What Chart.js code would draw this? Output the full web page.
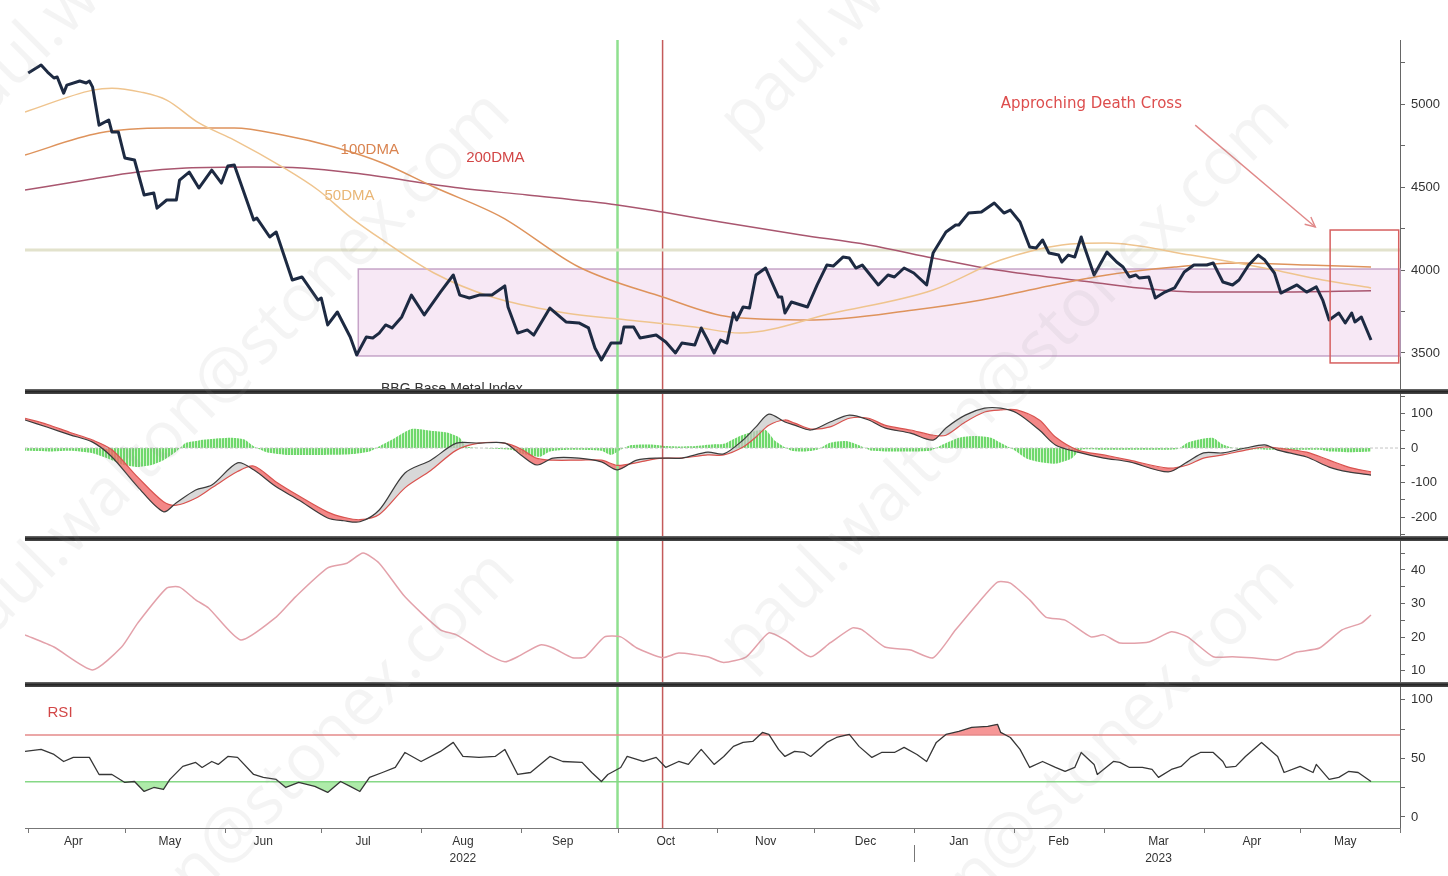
<!DOCTYPE html>
<html>
<head>
<meta charset="utf-8">
<title>BBG Base Metal Index</title>
<script src="https://cdn.jsdelivr.net/npm/chart.js@4.4.1/dist/chart.umd.min.js"></script>
<style>
  html, body { margin: 0; padding: 0; background: #fff; }
  #page { position: relative; width: 1448px; height: 876px; overflow: hidden; background: #fff; }
  #page canvas { position: absolute; left: 0; }
  .sep { position: absolute; left: 25px; width: 1423px; height: 5px; background: linear-gradient(#707070, #262626 50%, #4a4a4a); z-index: 3; }
  .title { position: absolute; left: 381px; top: 380px; height: 9px; overflow: hidden; font: 14px/16px "Liberation Sans", Arial, sans-serif; color: #333; z-index: 2; white-space: nowrap; }
  .wm { position: absolute; transform-origin: 0 0; transform: rotate(-45deg); font: 66px/1 "Open Sans", sans-serif; color: rgba(150,150,150,0.10); white-space: nowrap; pointer-events: none; z-index: 5; }
</style>
</head>
<body>
<div id="page">
  <canvas id="cPrice" width="1448" height="349" style="top:40px"></canvas>
  <canvas id="cMacd" width="1448" height="142" style="top:394px"></canvas>
  <canvas id="cAdx" width="1448" height="141" style="top:541px"></canvas>
  <canvas id="cRsi" width="1448" height="189" style="top:687px"></canvas>
  <div class="title">BBG Base Metal Index</div>
  <div class="sep" style="top:389px"></div>
  <div class="sep" style="top:536px"></div>
  <div class="sep" style="top:682px"></div>
  <div class="wm" style="left:-82px;top:103px">paul.walton@stonex.com</div>
  <div class="wm" style="left:-77px;top:623px">paul.walton@stonex.com</div>
  <div class="wm" style="left:-72px;top:1083px">paul.walton@stonex.com</div>
  <div class="wm" style="left:703px;top:103px">paul.walton@stonex.com</div>
  <div class="wm" style="left:703px;top:628px">paul.walton@stonex.com</div>
  <div class="wm" style="left:708px;top:1088px">paul.walton@stonex.com</div>
</div>
<script>
// x = calendar days counted from 1 Apr 2022
const X_MIN = -1, X_MAX = 426;

// ---- price panel ----
const priceDays = [0,4,6,8,9,11,12,16,18,19,20,22,25,26,28,30,33,36,39,40,43,46,47,50,53,57,60,62,64,70,
  71,75,77,82,85,90,91,93,96,100,102,105,107,109,111,113,116,119,123,128,132,134,137,140,144,148,149,152,155,157,
  162,167,171,174,176,178,181,184,185,188,190,195,198,201,203,207,209,211,213,215,217,219,220,222,224,226,229,233,234,235,
  237,242,245,248,250,253,255,257,259,264,267,269,272,275,279,281,285,288,289,292,296,300,303,305,308,311,313,315,317,320,
  321,323,325,327,328,331,335,338,340,342,344,345,348,350,353,356,359,362,366,368,371,374,376,379,382,384,387,389,394,397,
  400,402,404,407,409,411,412,414,417];
const priceVals = [5187,5235,5193,5157,5163,5066,5114,5139,5127,5139,5102,4873,4904,4831,4831,4675,4663,4452,4464,4373,
  4422,4422,4542,4590,4494,4602,4524,4627,4633,4301,4313,4199,4229,3940,3958,3819,3831,3669,3747,3596,
  3488,3596,3590,3620,3669,3651,3717,3849,3729,3867,3970,3849,3831,3849,3849,3904,3777,3620,3639,3608,
  3771,3687,3681,3651,3530,3458,3560,3560,3657,3657,3590,3608,3566,3500,3560,3548,3651,3578,3500,3578,
  3560,3741,3699,3777,3771,3970,4012,3837,3837,3741,3807,3777,3910,4030,4024,4078,4072,4012,4030,3910,
  3970,3958,4012,3982,3910,4102,4229,4271,4271,4343,4349,4404,4343,4361,4289,4139,4133,4181,4102,4090,
  4048,4090,4078,4199,4139,3970,4108,4048,4018,3958,3970,3952,3958,3831,3867,3892,3988,4030,4030,4042,
  3928,3910,3940,4030,4090,4060,3982,3861,3910,3867,3898,3819,3699,3741,3681,3741,3687,3717,3578];

const ma50Days = [-1,20,26,35,43,53,64,79,90,100,110,126,144,165,186,207,221,250,281,302,321,335,361,387,402,417];
const ma50Vals = [4952,5084,5096,5072,5024,4886,4783,4620,4482,4319,4181,3982,3837,3747,3699,3657,3620,3741,3880,4060,4151,4163,4090,4000,3940,3892];
const ma100Days = [-1,22,43,64,79,95,110,126,147,171,197,218,244,275,296,314,335,356,376,397,417];
const ma100Vals = [4693,4825,4855,4855,4813,4741,4645,4500,4319,4018,3837,3717,3699,3759,3819,3892,3970,4018,4042,4030,4018];
const ma200Days = [-1,18,34,49,70,85,101,134,155,183,197,215,240,261,281,297,312,330,345,363,387,417];
const ma200Vals = [4482,4542,4590,4614,4620,4614,4584,4494,4452,4392,4349,4289,4211,4151,4072,4012,3970,3928,3892,3867,3867,3875];

const resistanceLevel = 4120;
const rangeDays = [102.5, 426], rangeVals = [3482, 4006];
const crossBoxDays = [404.3, 425.6], crossBoxVals = [3440, 4241];
const arrowDays = [362.4, 399.7], arrowVals = [4873, 4259];

// ---- MACD panel ----
const macdDays = [-1,6,13,20,26,34,42,46,52,57,65,70,77,84,93,98,103,109,117,125,133,140,148,153,158,163,171,178,183,189,
  196,203,211,216,222,226,230,235,238,243,249,255,261,266,274,281,285,291,297,302,307,314,319,326,334,342,354,360,365,371,
  378,384,388,397,404,410,417];
const macdVals = [81,60,38,17,-26,-112,-184,-158,-121,-107,-43,-63,-112,-150,-202,-210,-213,-179,-72,-35,14,14,14,-20,-49,-29,-29,-40,-63,-35,
  -29,-29,-12,-17,23,61,98,75,66,52,75,95,81,58,43,23,58,95,115,115,101,52,9,-12,-29,-40,-69,-40,-14,-14,
  0,9,-6,-26,-55,-69,-78];
const signalVals = [86,68,45,23,-5,-84,-155,-165,-145,-115,-68,-52,-98,-138,-185,-200,-207,-192,-115,-65,-6,14,14,-3,-30,-35,-35,-35,-50,-42,
  -30,-29,-20,-20,3,32,66,81,72,55,61,86,86,66,52,37,37,75,104,110,110,81,32,-6,-20,-35,-58,-49,-29,-20,
  -6,3,0,-12,-35,-55,-69];
const histDays = [-1,7,13,20,26,30,34,38,42,46,49,53,59,63,67,70,74,81,91,100,106,110,114,119,125,130,134,136,140,150,
  154,159,162,168,178,181,184,187,193,199,206,212,216,221,226,229,232,237,241,245,249,254,258,262,271,280,284,289,294,299,
  302,306,310,314,319,324,327,333,342,352,357,360,364,368,371,376,389,401,404,411,417];
const histVals = [-8,-10,-8,-15,-35,-50,-55,-50,-35,-10,15,22,28,30,25,5,-12,-20,-20,-18,-10,10,30,55,50,45,30,5,0,-5,
  -18,-25,-10,-5,-8,-20,-5,8,10,5,5,10,12,35,50,52,20,-8,-10,-5,15,20,8,-8,-10,-8,10,30,35,30,
  15,-5,-30,-40,-45,-30,-5,-5,-5,-5,-3,15,25,29,10,-3,-5,-5,-10,-12,-10];

// ---- third panel (pink line) ----
const adxDays = [-1,8,20,29,34,43,47,52,56,66,77,83,93,99,104,109,117,128,133,142,148,152,159,163,169,173,179,184,189,197,
  202,211,216,223,230,235,243,249,256,259,266,274,281,288,295,301,305,311,316,322,330,334,339,348,355,360,368,374,380,388,
  394,401,408,414,417];
const adxVals = [20.7,17.1,10.3,17.1,24.2,34.6,34.9,31.1,28.7,19.2,26.0,32.0,40.6,42.0,45.0,42.0,32.0,22.2,20.7,15.3,
  12.7,14.2,17.7,16.8,13.9,14.2,20.1,20.1,16.8,13.9,15.3,14.2,12.5,14.2,21.3,19.2,14.2,18.3,22.8,22.2,
  17.1,16.2,13.9,22.2,30.2,36.4,36.1,31.1,26.0,25.1,20.1,20.7,18.3,18.6,21.6,20.1,14.2,14.2,13.9,13.3,
  15.6,16.8,22.2,24.2,26.6];

// ---- RSI panel ----
const rsiDays = [-1,4,8,11,14,19,22,26,30,33,36,39,42,44,48,52,54,57,59,62,65,70,73,77,80,84,89,93,97,100,
  103,106,110,114,117,122,128,132,135,140,145,148,152,156,162,166,172,175,178,180,184,186,191,195,198,202,205,209,213,216,
  219,222,225,228,230,233,235,238,241,243,248,251,255,258,262,265,269,272,276,279,282,285,289,293,298,301,302,305,308,311,
  315,319,322,325,327,331,332,337,339,342,346,349,351,355,358,361,364,368,371,372,375,378,383,388,390,395,399,400,404,407,
  410,413,417];
const rsiVals = [56,57.7,53.4,47.4,50.9,50.9,36.3,36.3,29.5,30.3,21.8,25.2,23.5,32.1,43.2,46.6,42.3,47.4,44.9,51.7,
  50.9,36.3,33.8,32.1,25.2,29.5,26.1,21.0,30.3,26.1,21.8,33.8,38.0,42.3,55.1,47.4,56,63.7,51.7,50.9,
  51.7,57.7,36.3,38.0,51.7,47.4,46.6,38.0,30.3,36.3,42.3,51.7,47.4,50.9,42.3,47.4,44.9,57.7,44.9,51.7,
  60.3,63.7,64.5,72.2,70.5,57.7,51.7,56,55.1,51.7,63.7,67.9,70.5,60.3,50.9,55.1,55.1,59.4,53.4,47.4,
  63.7,70.5,73.1,76.5,77.4,79.1,72.2,67.9,57.7,42.3,47.4,42.3,38.9,42.3,55.1,44.9,36.3,47.4,46.6,42.3,
  42.3,40.6,33.8,40.6,43.2,50.9,55.1,55.1,47.4,42.3,43.2,51.7,63.7,51.7,38.0,43.2,38.0,44.9,32.1,33.8,
  38.9,38.0,30.3];
const rsiHigh = 70, rsiLow = 30;

// ---- time axis ----
const monthMidDays = [14,44,73,104,135,166,198,229,260,289,320,351,380,409];
const monthLabels = ['Apr','May','Jun','Jul',['Aug','2022'],'Sep','Oct','Nov','Dec','Jan','Feb',['Mar','2023'],'Apr','May'];
const monthStartDays = [0,30,61,91,122,153,183,214,244,275,306,334,365,395,426];
const yearStartDay = 275;
const markerGreenDay = 183, markerRedDay = 197;

const FONT = '"Liberation Sans", Arial, sans-serif';
const xy = (xs, ys) => xs.map((x, i) => ({x, y: ys[i]}));
const flat = v => [{x: X_MIN, y: v}, {x: X_MAX, y: v}];

function yAxis(min, max, tickVals, labelled) {
  return {
    position: 'right', min, max,
    afterBuildTicks: s => { s.ticks = tickVals.map(v => ({value: v})); },
    afterFit: s => { s.width = 48; s.paddingTop = 0; s.paddingBottom = 0; },
    grid: {drawOnChartArea: false, tickLength: 5, color: '#666', tickColor: '#666'},
    border: {display: true, color: '#666', width: 1},
    ticks: {padding: 6, autoSkip: false, color: '#333', font: {family: FONT, size: 13},
      callback: v => labelled.includes(v) ? String(v) : ''}
  };
}
const hiddenX = () => ({type: 'linear', min: X_MIN, max: X_MAX, display: false});
const bottomX = {
  type: 'linear', min: X_MIN, max: X_MAX, position: 'bottom',
  afterBuildTicks: s => { s.ticks = monthMidDays.map(v => ({value: v})); },
  afterFit: s => { s.height = 48; s.paddingLeft = 0; s.paddingRight = 0; },
  grid: {display: false, drawTicks: false},
  border: {display: true, color: '#777', width: 1},
  ticks: {autoSkip: false, maxRotation: 0, minRotation: 0, padding: 6, color: '#333',
    font: {family: FONT, size: 12, lineHeight: 1.35}, callback: (v, i) => monthLabels[i]}
};

function opts(yScale, xScale) {
  return {
    responsive: false, animation: false, devicePixelRatio: 1, events: [],
    layout: {padding: {left: 25, right: 0, top: 0, bottom: 0}},
    plugins: {legend: {display: false}, tooltip: {enabled: false}, filler: {drawTime: 'beforeDatasetsDraw'}},
    elements: {point: {radius: 0}, line: {borderJoinStyle: 'round'}},
    scales: {x: xScale, y: yScale}
  };
}

function drawMarkers(chart) {
  const {ctx, chartArea: a, scales: {x}} = chart;
  ctx.save();
  [[markerGreenDay, '#8fe08f', 2.5], [markerRedDay, '#c45a5a', 1.5]].forEach(([d, col, w]) => {
    const px = x.getPixelForValue(d);
    ctx.strokeStyle = col; ctx.lineWidth = w;
    ctx.beginPath(); ctx.moveTo(px, a.top); ctx.lineTo(px, a.bottom); ctx.stroke();
  });
  ctx.restore();
}
const markers = {id: 'markers', beforeDatasetsDraw: drawMarkers};

const pricePlugin = {
  id: 'priceNotes',
  beforeDatasetsDraw(chart) {
    const {ctx, scales: {x, y}} = chart;
    const x0 = x.getPixelForValue(rangeDays[0]), x1 = x.getPixelForValue(rangeDays[1]);
    const y0 = y.getPixelForValue(rangeVals[1]), y1 = y.getPixelForValue(rangeVals[0]);
    ctx.save();
    ctx.fillStyle = '#f7e8f5';
    ctx.fillRect(x0, y0, x1 - x0, y1 - y0);
    ctx.strokeStyle = '#c6a4c8'; ctx.lineWidth = 1.5;
    ctx.strokeRect(x0, y0, x1 - x0, y1 - y0);
    ctx.restore();
    drawMarkers(chart);
  },
  afterDatasetsDraw(chart) {
    const {ctx, scales: {x, y}} = chart;
    ctx.save();
    // box round the end of the series
    const bx0 = x.getPixelForValue(crossBoxDays[0]), bx1 = x.getPixelForValue(crossBoxDays[1]);
    const by0 = y.getPixelForValue(crossBoxVals[1]), by1 = y.getPixelForValue(crossBoxVals[0]);
    ctx.strokeStyle = '#d65f5f'; ctx.lineWidth = 1.5;
    ctx.strokeRect(bx0, by0, bx1 - bx0, by1 - by0);
    // arrow
    const ax0 = x.getPixelForValue(arrowDays[0]), ay0 = y.getPixelForValue(arrowVals[0]);
    const ax1 = x.getPixelForValue(arrowDays[1]), ay1 = y.getPixelForValue(arrowVals[1]);
    ctx.strokeStyle = '#e08888'; ctx.lineWidth = 1.4;
    ctx.beginPath(); ctx.moveTo(ax0, ay0); ctx.lineTo(ax1, ay1); ctx.stroke();
    const ang = Math.atan2(ay1 - ay0, ax1 - ax0);
    ctx.beginPath();
    ctx.moveTo(ax1 - 11 * Math.cos(ang - 0.45), ay1 - 11 * Math.sin(ang - 0.45));
    ctx.lineTo(ax1, ay1);
    ctx.lineTo(ax1 - 11 * Math.cos(ang + 0.45), ay1 - 11 * Math.sin(ang + 0.45));
    ctx.stroke();
    // labels
    ctx.textBaseline = 'middle'; ctx.textAlign = 'left';
    ctx.font = '15px "DejaVu Sans", sans-serif'; ctx.fillStyle = '#dd4d4d';
    ctx.fillText('Approching Death Cross', x.getPixelForValue(302), y.getPixelForValue(5000));
    ctx.font = '15px ' + FONT;
    ctx.fillStyle = '#d9834f'; ctx.fillText('100DMA', x.getPixelForValue(97), y.getPixelForValue(4723));
    ctx.fillStyle = '#d24646'; ctx.fillText('200DMA', x.getPixelForValue(136), y.getPixelForValue(4675));
    ctx.fillStyle = '#e9b676'; ctx.fillText('50DMA', x.getPixelForValue(92), y.getPixelForValue(4446));
    ctx.restore();
  }
};

const rsiPlugin = {
  id: 'rsiNotes',
  afterDatasetsDraw(chart) {
    const {ctx, scales: {x, y}} = chart;
    ctx.save();
    ctx.font = '15px ' + FONT; ctx.fillStyle = '#d24646'; ctx.textBaseline = 'middle';
    ctx.fillText('RSI', x.getPixelForValue(6), y.getPixelForValue(89));
    ctx.restore();
  },
  afterDraw(chart) {
    const {ctx, chartArea: a, scales: {x}} = chart;
    ctx.save(); ctx.strokeStyle = '#777'; ctx.lineWidth = 1;
    monthStartDays.forEach(d => {
      const px = Math.round(x.getPixelForValue(d)) + 0.5;
      ctx.beginPath(); ctx.moveTo(px, a.bottom); ctx.lineTo(px, a.bottom + 5); ctx.stroke();
    });
    const yx = Math.round(x.getPixelForValue(yearStartDay)) + 0.5;
    ctx.beginPath(); ctx.moveTo(yx, a.bottom + 17); ctx.lineTo(yx, a.bottom + 34); ctx.stroke();
    ctx.restore();
  }
};

function stripes() {
  const c = document.createElement('canvas'); c.width = 3; c.height = 4;
  const g = c.getContext('2d');
  g.fillStyle = '#d6f5d2'; g.fillRect(0, 0, 3, 4);
  g.fillStyle = '#6fd86c'; g.fillRect(0, 0, 2, 4);
  return g.createPattern(c, 'repeat');
}

const smooth = {tension: 0.4, cubicInterpolationMode: 'monotone'};

new Chart(document.getElementById('cPrice'), {
  type: 'line',
  data: {datasets: [
    {data: xy(priceDays, priceVals), borderColor: '#1d2a42', borderWidth: 3, tension: 0},
    {data: xy(ma50Days, ma50Vals), borderColor: '#efc48e', borderWidth: 1.5, ...smooth},
    {data: xy(ma100Days, ma100Vals), borderColor: '#de935c', borderWidth: 1.5, ...smooth},
    {data: xy(ma200Days, ma200Vals), borderColor: '#a9566f', borderWidth: 1.5, ...smooth},
    {data: flat(resistanceLevel), borderColor: '#e2e2cc', borderWidth: 3}
  ]},
  options: opts(yAxis(3283, 5386, [3500,3750,4000,4250,4500,4750,5000,5250], [3500,4000,4500,5000]), hiddenX()),
  plugins: [pricePlugin]
});

new Chart(document.getElementById('cMacd'), {
  type: 'line',
  data: {datasets: [
    {data: xy(macdDays, macdVals), borderColor: '#3c3c3c', borderWidth: 1.2, tension: 0.3,
      fill: {target: 1, above: 'rgba(200,200,200,0.7)', below: 'rgba(240,105,105,0.8)'}},
    {data: xy(macdDays, signalVals), borderColor: '#d9534f', borderWidth: 1.2, tension: 0.3},
    {data: flat(0), borderColor: '#c4c4c4', borderWidth: 1, borderDash: [3, 2]},
    {data: xy(histDays, histVals), borderColor: 'rgba(0,0,0,0)', borderWidth: 0, tension: 0.2,
      backgroundColor: stripes(), fill: 'origin'}
  ]},
  options: opts(yAxis(-254, 156, [-250,-200,-150,-100,-50,0,50,100,150], [-200,-100,0,100]), hiddenX()),
  plugins: [markers]
});

new Chart(document.getElementById('cAdx'), {
  type: 'line',
  data: {datasets: [
    {data: xy(adxDays, adxVals), borderColor: '#e3a1aa', borderWidth: 1.5, tension: 0.2}
  ]},
  options: opts(yAxis(6.7, 48.6, [10,15,20,25,30,35,40,45], [10,20,30,40]), hiddenX()),
  plugins: [markers]
});

new Chart(document.getElementById('cRsi'), {
  type: 'line',
  data: {datasets: [
    {data: xy(rsiDays, rsiVals), borderColor: '#363636', borderWidth: 1.3, tension: 0,
      fill: {target: {value: rsiLow}, above: 'rgba(0,0,0,0)', below: 'rgba(120,222,112,0.6)'}},
    {data: xy(rsiDays, rsiVals), borderColor: 'rgba(0,0,0,0)', borderWidth: 0, tension: 0,
      fill: {target: {value: rsiHigh}, above: 'rgba(242,105,105,0.7)', below: 'rgba(0,0,0,0)'}},
    {data: flat(rsiHigh), borderColor: '#e48a8a', borderWidth: 1.5},
    {data: flat(rsiLow), borderColor: '#86d886', borderWidth: 1.5}
  ]},
  options: opts(yAxis(-9.4, 111, [0,25,50,75,100], [0,50,100]), bottomX),
  plugins: [markers, rsiPlugin]
});
</script>
</body>
</html>
